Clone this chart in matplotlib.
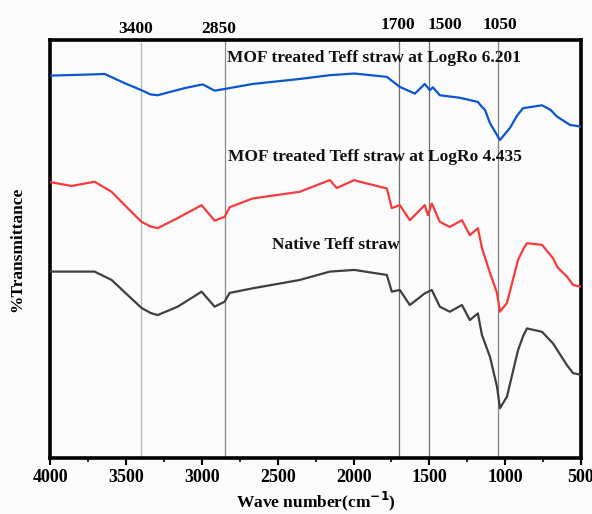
import numpy as np
import matplotlib
matplotlib.use("Agg")
import matplotlib.pyplot as plt
from matplotlib.ticker import MultipleLocator

plt.rcParams['font.family'] = ['Liberation Serif', 'DejaVu Serif']
plt.rcParams['font.weight'] = 'bold'

# FTIR spectra (wavenumber, arbitrary %T)
wn_blue = [4000, 3709, 3643, 3511, 3399, 3340, 3293, 3200, 3115, 2996, 2917, 2851, 2666, 2355,
           2157, 1995, 1781, 1695, 1596, 1530, 1497, 1477, 1431, 1299, 1180, 1153,
           1133, 1100, 1054, 1034, 968, 920, 882, 757, 700, 658, 572, 500]
t_blue = [91.5, 91.8, 91.9, 89.7, 88.0, 87.0, 86.8, 87.7, 88.5, 89.4, 87.9, 88.3, 89.5, 90.7,
          91.6, 92.0, 91.2, 88.8, 87.2, 89.5, 88.0, 88.7, 86.8, 86.2, 85.2, 84.0,
          83.3, 80.1, 77.3, 76.1, 79.0, 82.0, 83.7, 84.4, 83.3, 81.7, 79.7, 79.3]

wn_red = [4000, 3861, 3709, 3597, 3491, 3399, 3340, 3293, 3161, 3003, 2917, 2851, 2818,
          2666, 2355, 2157, 2111, 1995, 1959, 1781, 1748, 1695, 1629, 1530, 1510,
          1484, 1431, 1365, 1285, 1233, 1180, 1153, 1100, 1054, 1034, 988, 915,
          880, 856, 757, 684, 652, 592, 552, 500]
t_red = [66.0, 65.1, 66.1, 63.7, 59.8, 56.5, 55.4, 55.0, 57.4, 60.5, 56.8, 57.7, 60.0,
         62.1, 63.7, 66.5, 64.6, 66.5, 66.1, 64.5, 59.8, 60.5, 56.9, 60.5, 58.1,
         60.9, 56.5, 55.3, 56.9, 53.3, 55.0, 50.2, 44.3, 39.5, 35.0, 37.1, 47.4,
         50.0, 51.4, 51.0, 47.8, 45.5, 43.4, 41.4, 41.0]

wn_black = [4000, 3709, 3597, 3491, 3399, 3340, 3293, 3161, 3003, 2917, 2851, 2818, 2666,
            2355, 2157, 1995, 1781, 1748, 1695, 1629, 1530, 1484, 1431, 1365, 1285,
            1233, 1180, 1153, 1100, 1054, 1034, 988, 915, 880, 856, 757, 684, 592, 552, 500]
t_black = [44.6, 44.6, 42.6, 39.0, 35.9, 34.7, 34.2, 36.2, 39.8, 36.2, 37.4, 39.5, 40.6,
           42.6, 44.6, 45.0, 43.8, 39.8, 40.2, 36.6, 39.4, 40.2, 36.2, 35.0, 36.6,
           33.0, 34.6, 29.4, 24.2, 17.1, 11.9, 14.7, 25.8, 29.3, 31.0, 30.2, 27.4, 22.2,
           20.3, 19.9]

peak_lines = [3400, 2850, 1700, 1500, 1050]
peak_colors = ['#b8b8b8', '#8a8a8a', '#6e6e6e', '#6e6e6e', '#808080']
peak_label_x = [3439, 2890, 1708, 1398, 1034]
peak_label_y = [1.026, 1.026, 1.036, 1.036, 1.036]

labels = ["MOF treated Teff straw at LogRo 6.201",
          "MOF treated Teff straw at LogRo 4.435",
          "Native Teff straw"]
label_pos = [(2838, 95.7), (2831, 72.0), (2540, 51.0)]

bg = '#fbfbfb'
fig = plt.figure(figsize=(5.92, 5.14), dpi=100, facecolor=bg)
ax = fig.add_axes([0.0853, 0.109, 0.896, 0.813], facecolor=bg)

for x, c in zip(peak_lines, peak_colors):
    ax.axvline(x, color=c, lw=0.9, zorder=1)

ax.plot(wn_blue, t_blue, color='#0a55d0', lw=1.6, zorder=3)
ax.plot(wn_red, t_red, color='#f53b3b', lw=1.6, zorder=3)
ax.plot(wn_black, t_black, color='#3f3f3f', lw=1.6, zorder=3)

for txt, (x, y) in zip(labels, label_pos):
    ax.text(x, y, txt, ha='left', va='center', fontsize=12.5, fontweight='bold', color='#111111')

for x, y, v in zip(peak_label_x, peak_label_y, peak_lines):
    ax.text(x, y, str(v), transform=ax.get_xaxis_transform(), ha='center', va='center',
            fontsize=12.5, fontweight='bold')

ax.set_xlim(4000, 500)
ax.set_ylim(0, 100)
ax.xaxis.set_major_locator(MultipleLocator(500))
ax.xaxis.set_minor_locator(MultipleLocator(250))
ax.set_yticks([])
ax.tick_params(axis='x', which='major', direction='out', length=5, width=1.5, pad=3,
               labelsize=13)
ax.tick_params(axis='x', which='minor', direction='out', length=3, width=1.2)
for lab in ax.get_xticklabels():
    lab.set_fontweight('bold')
for s in ax.spines.values():
    s.set_linewidth(2.6)

fig.text(0.534, 0.024, "Wave number(cm$^{\\mathbf{-1}}$)", ha='center', va='center',
         fontsize=12.5, fontweight='bold')
fig.text(0.029, 0.515, "%Transmittance", rotation=90, ha='center', va='center',
         fontsize=12.5, fontweight='bold')

fig.savefig("out.png", dpi=100, facecolor=bg)
